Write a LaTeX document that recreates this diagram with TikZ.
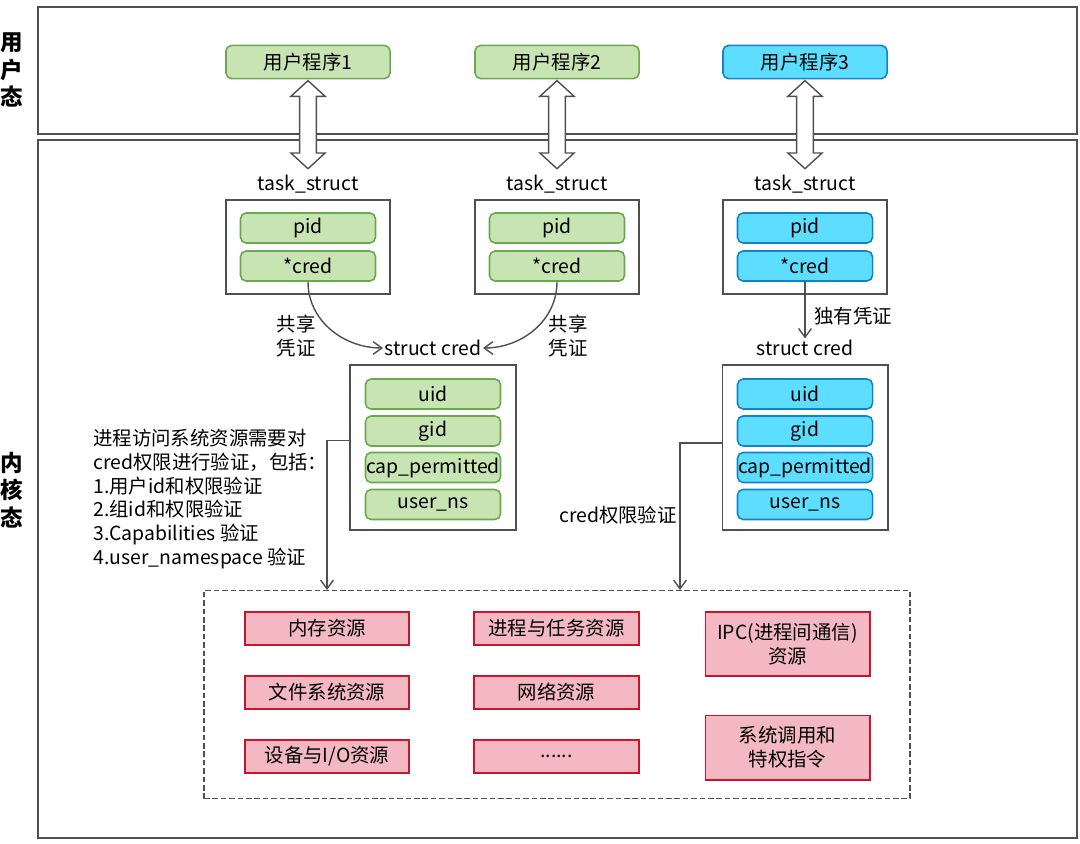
\documentclass[tikz,border=0pt]{standalone}
\usepackage{fontspec}
\setmainfont{Noto Sans CJK SC}
\usepackage{xcolor}
\usetikzlibrary{arrows.meta,positioning,shapes.arrows,calc}

\definecolor{fldgreen}{RGB}{200,228,178}
\definecolor{lngreen}{RGB}{106,168,79}
\definecolor{fldblue}{RGB}{94,222,255}
\definecolor{lnblue}{RGB}{20,130,200}
\definecolor{fldred}{RGB}{244,184,194}
\definecolor{lnred}{RGB}{196,22,48}
\definecolor{framegray}{RGB}{80,80,80}

\begin{document}
\begin{tikzpicture}[
  x=0.025cm, y=-0.025cm,
  font=\fontsize{13.8}{17}\selectfont,
  layer/.style={rectangle, draw=framegray, line width=1.8pt, minimum width=25.975cm, inner sep=0pt},
  sidelabel/.style={align=center, font=\bfseries\fontsize{16}{19.5}\selectfont},
  progbox/.style={rectangle, rounded corners=4pt, line width=1.1pt, minimum width=4.1cm, minimum height=0.83cm, inner sep=0pt},
  field/.style={rectangle, rounded corners=4pt, line width=1.1pt, minimum width=3.375cm, minimum height=0.75cm, inner sep=0pt},
  greenbox/.style={fill=fldgreen, draw=lngreen},
  bluebox/.style={fill=fldblue, draw=lnblue},
  structbox/.style={rectangle, draw=framegray, line width=1.4pt, minimum width=4.1cm, inner sep=0pt},
  resbox/.style={rectangle, fill=fldred, draw=lnred, line width=1.4pt, align=center, minimum width=4.1cm, minimum height=0.83cm, inner sep=0pt},
  fatarrow/.style={double arrow, draw=framegray, fill=white, line width=1pt, rotate=90, minimum height=2.2cm, minimum width=0.83cm, inner xsep=0pt, inner ysep=0.19cm, double arrow head extend=0.22cm, double arrow tip angle=95},
  arrow/.style={-{Straight Barb[length=2.2mm, width=3.2mm]}, draw=framegray, line width=1pt}
]
\useasboundingbox (0,0) rectangle (1080,843);

% user space and kernel space
\node[layer, minimum height=3.175cm] (user) at (557.5,70.5) {};
\node[layer, minimum height=17.45cm] (kernel) at (557.5,489) {};
\node[sidelabel] (userlab) at (12,70) {用\\户\\态};
\node[sidelabel] (kernlab) at (12,490) {内\\核\\态};

\node[progbox, greenbox] (prog1) at (308,62) {用户程序1};
\node[progbox, greenbox] (prog2) at (557,62) {用户程序2};
\node[progbox, bluebox] (prog3) at (805,62) {用户程序3};

% task_struct boxes
\node (tsl1) at (308,184) {task\_struct};
\node (tsl2) at (557,184) {task\_struct};
\node (tsl3) at (805,184) {task\_struct};

\node[fatarrow] (sys1) at ($(prog1.south)!0.5!(tsl1.north)$) {};
\node[fatarrow] (sys2) at ($(prog2.south)!0.5!(tsl2.north)$) {};
\node[fatarrow] (sys3) at ($(prog3.south)!0.5!(tsl3.north)$) {};

\node[structbox, minimum height=2.35cm] (ts1) at (308,247) {};
\node[field, greenbox] (pid1) at (308,228) {pid};
\node[field, greenbox] (cr1) at (308,266) {*cred};

\node[structbox, minimum height=2.35cm] (ts2) at (557,247) {};
\node[field, greenbox] (pid2) at (557,228) {pid};
\node[field, greenbox] (cr2) at (557,266) {*cred};

\node[structbox, minimum height=2.35cm] (ts3) at (805,247) {};
\node[field, bluebox] (pid3) at (805,228) {pid};
\node[field, bluebox] (cr3) at (805,266) {*cred};

% struct cred boxes
\node[inner sep=1pt] (sc1) at (433,348) {struct cred};
\node[structbox, minimum height=4.125cm, minimum width=4.125cm] (cb1) at (433,447.5) {};
\node[field, greenbox] (uid1) at (433,394) {uid};
\node[field, greenbox] (gid1) at (433,431) {gid};
\node[field, greenbox] (cap1) at (433,467.5) {cap\_permitted};
\node[field, greenbox] (ns1) at (433,504.5) {user\_ns};

\node[inner sep=1pt] (sc3) at (805,348) {struct cred};
\node[structbox, minimum height=4.125cm, minimum width=4.125cm] (cb3) at (805,447.5) {};
\node[field, bluebox] (uid3) at (805,394) {uid};
\node[field, bluebox] (gid3) at (805,431) {gid};
\node[field, bluebox] (cap3) at (805,467.5) {cap\_permitted};
\node[field, bluebox] (ns3) at (805,504.5) {user\_ns};

\node[align=center] (share1) at (296,336) {共享\\凭证};
\node[align=center] (share2) at (568,336) {共享\\凭证};
\node (own) at (853,316) {独有凭证};

\draw[arrow] (cr1.south) to[out=-90, in=180] (sc1.west);
\draw[arrow] (cr2.south) to[out=-90, in=0] (sc1.east);
\draw[arrow] (cr3.south) -- (sc3.north);

% checks
\node[anchor=west, align=left, inner sep=0pt] (note) at (93,499) {进程访问系统资源需要对\\cred权限进行验证，包括：\\1.用户id和权限验证\\2.组id和权限验证\\3.Capabilities 验证\\4.user\_namespace 验证};
\node[anchor=east, inner sep=0pt] (check) at (677,515) {cred权限验证};

% resources
\node[rectangle, draw=framegray, dash pattern=on 0.14cm off 0.07cm, line width=1.3pt, minimum width=17.65cm, minimum height=5.2cm] (res) at (557,694.5) {};
\coordinate (in1) at (327,590);
\coordinate (in2) at (680,590);
\draw[arrow] ([yshift=0.175cm]cb1.west) -| (in1);
\draw[arrow] ([yshift=0.11cm]cb3.west) -| (in2);

\node[resbox] (mem) at (327,628.5) {内存资源};
\node[resbox] (file) at (327,692.5) {文件系统资源};
\node[resbox] (dev) at (327,756.5) {设备与I/O资源};
\node[resbox] (proc) at (556.5,628.5) {进程与任务资源};
\node[resbox] (net) at (556.5,692.5) {网络资源};
\node[resbox] (more) at (556.5,756.5) {......};
\node[resbox, minimum height=1.6cm] (ipc) at (787.5,644) {IPC(进程间通信)\\资源};
\node[resbox, minimum height=1.6cm] (syscall) at (787.5,747.5) {系统调用和\\特权指令};
\end{tikzpicture}
\end{document}
